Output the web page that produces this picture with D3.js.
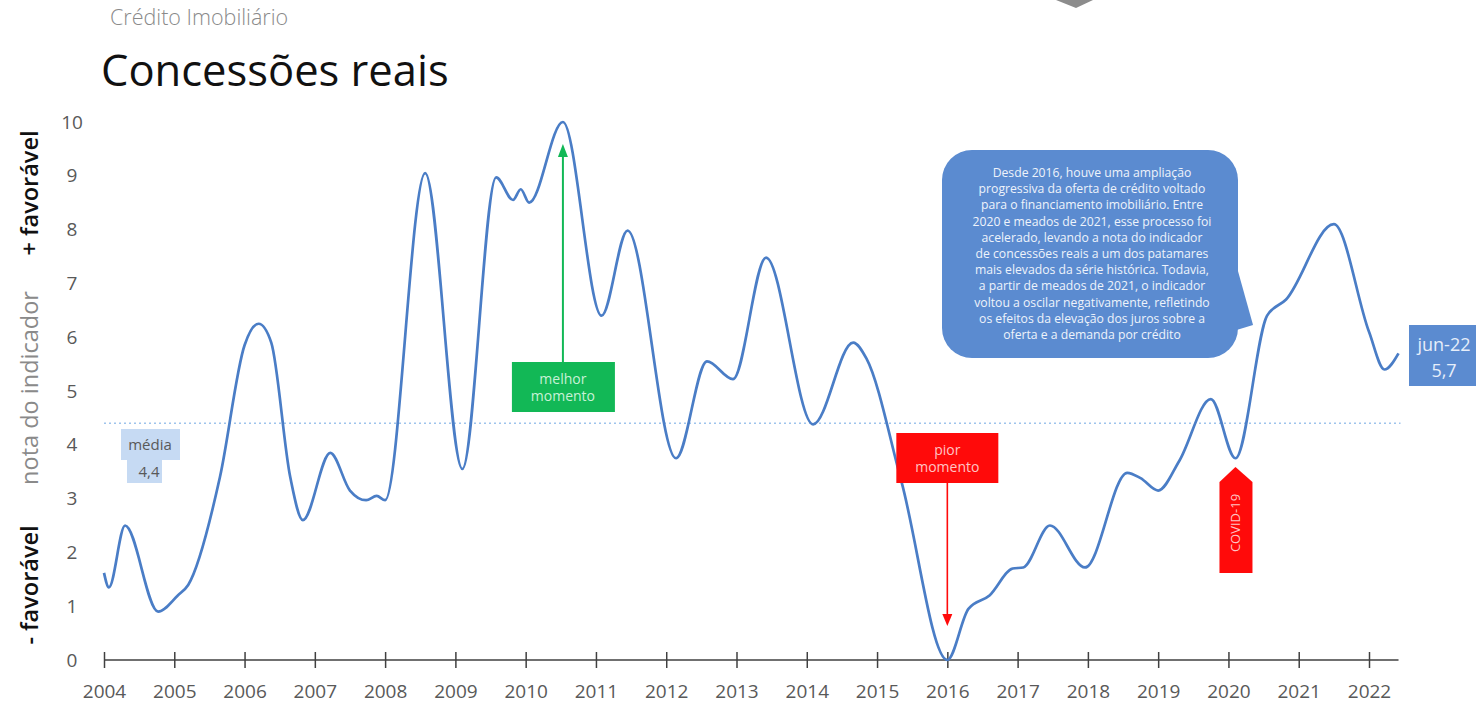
<!DOCTYPE html>
<html lang="pt-BR">
<head>
<meta charset="utf-8">
<script src="https://cdn.jsdelivr.net/npm/d3@7"></script>
<style>
  html, body { margin: 0; padding: 0; background: #fff; }
  svg { display: block; font-family: "Open Sans", "Noto Sans", sans-serif; }
</style>
</head>
<body>
<svg id="chart" width="1476" height="708"></svg>
<script>
// Nota do indicador de concessões reais (0 = pior, 10 = melhor), por período (ano decimal)
const periodos = [
  2004.00, 2004.07, 2004.30, 2004.77, 2005.05, 2005.20, 2005.65, 2006.00, 2006.20, 2006.38,
  2006.65, 2006.83, 2007.22, 2007.50, 2007.73, 2007.88, 2008.00, 2008.57, 2009.10, 2009.58,
  2009.82, 2009.93, 2010.05, 2010.53, 2011.08, 2011.45, 2012.14, 2012.58, 2012.95, 2013.42,
  2014.09, 2014.66, 2014.85, 2015.35, 2016.00, 2016.30, 2016.60, 2016.93, 2017.08, 2017.46,
  2017.96, 2018.56, 2018.75, 2019.00, 2019.30, 2019.75, 2020.10, 2020.55, 2020.82, 2021.50,
  2022.00, 2022.22, 2022.42
];
const notas = [
  1.62, 1.35, 2.50, 0.90, 1.20, 1.40, 3.40, 5.85, 6.25, 5.90,
  3.40, 2.60, 3.85, 3.15, 2.97, 3.05, 2.97, 9.05, 3.55, 8.97,
  8.55, 8.75, 8.50, 10.00, 6.40, 7.98, 3.75, 5.55, 5.22, 7.48,
  4.38, 5.90, 5.60, 3.30, 0.00, 0.95, 1.20, 1.70, 1.72, 2.50,
  1.72, 3.48, 3.38, 3.15, 3.70, 4.85, 3.75, 6.40, 6.70, 8.10,
  6.10, 5.40, 5.70
];
const anos = d3.range(2004, 2023);
const notasEixo = d3.range(0, 11);
const media = 4.4;
const ultimoRotulo = "jun-22";
const marcos = { melhor: 2010.53, pior: 2016.00, covid: 2020.10 };
const textoBalao = [
  "Desde 2016, houve uma ampliação",
  "progressiva da oferta de crédito voltado",
  "para o financiamento imobiliário. Entre",
  "2020 e meados de 2021, esse processo foi",
  "acelerado, levando a nota do indicador",
  "de concessões reais a um dos patamares",
  "mais elevados da série histórica. Todavia,",
  "a partir de meados de 2021, o indicador",
  "voltou a oscilar negativamente, refletindo",
  "os efeitos da elevação dos juros sobre a",
  "oferta e a demanda por crédito"
];

const fonte = '"Open Sans", "Noto Sans", sans-serif';
const serie = periodos.map((p, i) => ({ p, v: notas[i] }));
const fmt = v => String(v).replace(".", ",");

const svg = d3.select("#chart");
const x = d3.scaleLinear().domain([2004, 2022]).range([104, 1369]);
const y = d3.scaleLinear().domain([0, 10]).range([660, 122]);
const xFim = x(periodos[periodos.length - 1]);

// Marcador cinza no topo
svg.append("path")
  .attr("d", "M1056,0 L1093,0 L1076,8 Z")
  .attr("fill", "#8c8c8c");

// Títulos
svg.append("text").attr("x", 110).attr("y", 25)
  .attr("font-size", 21.5).attr("font-weight", 300).attr("fill", "#8a8a8a").text("Crédito Imobiliário");
svg.append("text").attr("x", 101).attr("y", 86)
  .attr("font-size", 43.5).attr("font-weight", 400).attr("fill", "#111").text("Concessões reais");

// Títulos do eixo vertical
const tituloY = [
  { t: "- favorável", c: 585, cor: "#111", w: 600 },
  { t: "nota do indicador", c: 388, cor: "#8a8a8a", w: 400 },
  { t: "+ favorável", c: 193, cor: "#111", w: 600 }
];
tituloY.forEach(d => {
  svg.append("text")
    .attr("transform", `translate(38,${d.c}) rotate(-90)`)
    .attr("text-anchor", "middle")
    .attr("font-size", 23.5).attr("font-weight", d.w).attr("fill", d.cor)
    .text(d.t);
});

// Eixo Y (apenas rótulos)
const gy = svg.append("g").attr("transform", "translate(80,0)")
  .call(d3.axisLeft(y).tickValues(notasEixo).tickSize(0).tickPadding(0))
  .attr("font-family", fonte);
gy.select(".domain").remove();
gy.selectAll("text").attr("x", -8).attr("text-anchor", "middle")
  .attr("font-size", 19).attr("fill", "#595959");

// Linha da média
svg.append("line")
  .attr("x1", x(2004)).attr("x2", xFim + 2)
  .attr("y1", y(media)).attr("y2", y(media))
  .attr("stroke", "#9fc4ec").attr("stroke-width", 1.4)
  .attr("stroke-dasharray", "2,3");

// Eixo X
const gx = svg.append("g").attr("transform", `translate(0,${y(0)})`)
  .call(d3.axisBottom(x).tickValues(anos).tickFormat(d3.format("d")).tickSizeInner(8).tickSizeOuter(0))
  .attr("font-family", fonte);
gx.select(".domain").remove();
gx.selectAll(".tick line").attr("y1", -8).attr("y2", 8)
  .attr("stroke", "#404040").attr("stroke-width", 1.5);
gx.selectAll(".tick text").attr("y", 25).attr("font-size", 19)
  .attr("fill", "#595959");
svg.append("line")
  .attr("x1", x(2004)).attr("x2", xFim)
  .attr("y1", y(0)).attr("y2", y(0))
  .attr("stroke", "#404040").attr("stroke-width", 1.5);

// Série
const linha = d3.line().x(d => x(d.p)).y(d => y(d.v)).curve(d3.curveMonotoneX);
svg.append("path").datum(serie)
  .attr("d", linha)
  .attr("fill", "none").attr("stroke", "#4a7dc6").attr("stroke-width", 2.7)
  .attr("stroke-linejoin", "round");

// Rótulo da média
const gm = svg.append("g");
gm.append("rect").attr("x", 121).attr("y", 429).attr("width", 59).attr("height", 31).attr("fill", "#c6daf3");
gm.append("rect").attr("x", 127).attr("y", 459).attr("width", 35).attr("height", 24).attr("fill", "#c6daf3");
gm.append("text").attr("x", 150).attr("y", 450).attr("text-anchor", "middle")
  .attr("font-size", 15).attr("fill", "#595959").text("média");
gm.append("text").attr("x", 149).attr("y", 477).attr("text-anchor", "middle")
  .attr("font-size", 15).attr("fill", "#595959").text(fmt(media));

// Melhor momento
const xm = x(marcos.melhor);
const verde = "#12b856";
svg.append("line").attr("x1", xm).attr("x2", xm).attr("y1", 362).attr("y2", 156)
  .attr("stroke", verde).attr("stroke-width", 2);
svg.append("path").attr("d", `M${xm - 5},157 L${xm + 5},157 L${xm},144 Z`).attr("fill", verde);
svg.append("rect").attr("x", xm - 51).attr("y", 362).attr("width", 103).attr("height", 50).attr("fill", verde);
svg.append("text").attr("x", xm).attr("y", 384).attr("text-anchor", "middle")
  .attr("font-size", 14).attr("fill", "#c8f1d6").text("melhor");
svg.append("text").attr("x", xm).attr("y", 401).attr("text-anchor", "middle")
  .attr("font-size", 14).attr("fill", "#c8f1d6").text("momento");

// Pior momento
const xp = x(marcos.pior);
const vermelho = "#ff0a0a";
svg.append("rect").attr("x", xp - 51).attr("y", 433).attr("width", 102).attr("height", 50).attr("fill", vermelho);
svg.append("text").attr("x", xp).attr("y", 455).attr("text-anchor", "middle")
  .attr("font-size", 14).attr("fill", "#ffc4c4").text("pior");
svg.append("text").attr("x", xp).attr("y", 472).attr("text-anchor", "middle")
  .attr("font-size", 14).attr("fill", "#ffc4c4").text("momento");
svg.append("line").attr("x1", xp).attr("x2", xp).attr("y1", 483).attr("y2", 615)
  .attr("stroke", vermelho).attr("stroke-width", 1.6);
svg.append("path").attr("d", `M${xp - 5},614 L${xp + 5},614 L${xp},626 Z`).attr("fill", vermelho);

// COVID-19
const xc = x(marcos.covid);
svg.append("path")
  .attr("d", `M${xc - 16},482 L${xc},467 L${xc + 17},482 L${xc + 17},573 L${xc - 16},573 Z`)
  .attr("fill", vermelho);
svg.append("text")
  .attr("transform", `translate(${xc + 5},523) rotate(-90)`)
  .attr("text-anchor", "middle").attr("font-size", 13).attr("fill", "#ffc4c4")
  .text("COVID-19");

// Balão explicativo
const azul = "#5b8bd0";
const bx = 942, by = 150, bw = 296, bh = 208, r = 30;
svg.append("path")
  .attr("d", `M${bx + bw - 2},264 L${x(2020.35)},325 L${bx + bw - 8},${by + bh - 26} Z`)
  .attr("fill", azul);
svg.append("rect").attr("x", bx).attr("y", by).attr("width", bw).attr("height", bh)
  .attr("rx", r).attr("fill", azul);
svg.append("text").attr("text-anchor", "middle")
  .attr("font-size", 12.2).attr("fill", "#eef3fb")
  .selectAll("tspan").data(textoBalao).join("tspan")
  .attr("x", bx + bw / 2 + 2).attr("y", (d, i) => 177 + i * 16.2)
  .text(d => d);

// Rótulo do último valor
const ultimo = serie[serie.length - 1];
svg.append("rect").attr("x", 1409).attr("y", 325).attr("width", 70).attr("height", 61).attr("fill", azul);
svg.append("text").attr("x", 1444).attr("y", 351).attr("text-anchor", "middle")
  .attr("font-size", 18).attr("fill", "#e6eefa").text(ultimoRotulo);
svg.append("text").attr("x", 1444).attr("y", 377).attr("text-anchor", "middle")
  .attr("font-size", 18).attr("fill", "#e6eefa").text(fmt(ultimo.v));
</script>
</body>
</html>
